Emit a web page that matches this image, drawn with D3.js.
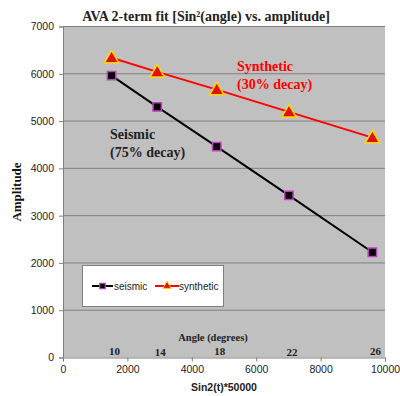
<!DOCTYPE html>
<html>
<head>
<meta charset="utf-8">
<script src="https://cdn.jsdelivr.net/npm/d3@7"></script>
<style>
body { margin: 0; background: #fff; }
svg text { font-family: Arial, "Liberation Sans", sans-serif; }
.serif { font-family: "Times New Roman", "Liberation Serif", serif; font-weight: bold; }
</style>
</head>
<body>
<div id="chart"></div>
<script>
// sin^2(angle)*50000 for each angle
let angles = [10, 14, 18, 22, 26]
let xValues = [1508, 2926, 4775, 7016, 9608]
let seismic = [5960, 5300, 4460, 3430, 2225]
let synthetic = [6340, 6040, 5665, 5195, 4650]
let xTicks = [0, 2000, 4000, 6000, 8000, 10000]
let yTicks = [0, 1000, 2000, 3000, 4000, 5000, 6000, 7000]

let width = 400, height = 396
let margin = {left: 63, right: 15, top: 26.5, bottom: 38.5}

let svg = d3.select('#chart').append('svg')
    .attr('width', width).attr('height', height)

let x = d3.scaleLinear().domain([0, 10000]).range([margin.left, width - margin.right])
let y = d3.scaleLinear().domain([0, 7000]).range([height - margin.bottom, margin.top])

// plot background
svg.append('rect')
    .attr('x', x(0)).attr('y', y(7000))
    .attr('width', x(10000) - x(0)).attr('height', y(0) - y(7000))
    .attr('fill', '#c0c0c0')

// grid lines
svg.selectAll('.grid').data(yTicks.slice(1)).enter().append('line')
    .attr('x1', x(0)).attr('x2', x(10000))
    .attr('y1', d => y(d)).attr('y2', d => y(d))
    .attr('stroke', '#808080').attr('stroke-width', 1)

// axes
let xAxis = svg.append('g')
    .attr('transform', `translate(0,${y(0)})`)
    .call(d3.axisBottom(x).tickValues(xTicks).tickFormat(d3.format('d')).tickSize(4).tickPadding(4))
let yAxis = svg.append('g')
    .attr('transform', `translate(${x(0)},0)`)
    .call(d3.axisLeft(y).tickValues(yTicks).tickFormat(d3.format('d')).tickSize(4).tickPadding(5))
;[xAxis, yAxis].forEach(a => {
    a.select('.domain').attr('stroke', '#808080')
    a.selectAll('.tick line').attr('stroke', '#808080')
    a.selectAll('.tick text').attr('font-size', 10.5).attr('fill', '#222')
        .style('font-family', 'Arial, "Liberation Sans", sans-serif')
})

// lines
let line = vals => d3.line().x((d, i) => x(xValues[i])).y(d => y(d))(vals)
svg.append('path').attr('d', line(seismic))
    .attr('fill', 'none').attr('stroke', '#000').attr('stroke-width', 2)
svg.append('path').attr('d', line(synthetic))
    .attr('fill', 'none').attr('stroke', '#ff0000').attr('stroke-width', 2)

// markers
let sq = d3.symbol().type(d3.symbolSquare).size(70)
let tri = d3.symbol().type(d3.symbolTriangle).size(90)
svg.selectAll('.sm').data(seismic).enter().append('path')
    .attr('d', sq)
    .attr('transform', (d, i) => `translate(${x(xValues[i])},${y(d)})`)
    .attr('fill', '#000').attr('stroke', '#c040c0').attr('stroke-width', 1.5)
svg.selectAll('.tm').data(synthetic).enter().append('path')
    .attr('d', tri)
    .attr('transform', (d, i) => `translate(${x(xValues[i])},${y(d) + 1})`)
    .attr('fill', '#e01010').attr('stroke', '#ffd700').attr('stroke-width', 1.5)

// angle labels
svg.selectAll('.ang').data(angles).enter().append('text')
    .attr('class', 'serif')
    .attr('x', (d, i) => x(xValues[i]) + 3)
    .attr('y', (d, i) => i % 2 ? 356 : 355)
    .attr('text-anchor', 'middle')
    .attr('font-size', 11).attr('fill', '#222')
    .text(d => d)
svg.append('text').attr('class', 'serif')
    .attr('x', 213).attr('y', 341)
    .attr('text-anchor', 'middle').attr('font-size', 10.5).attr('fill', '#222')
    .text('Angle (degrees)')

// title
svg.append('text').attr('class', 'serif')
    .attr('x', 206).attr('y', 21)
    .attr('text-anchor', 'middle').attr('font-size', 14).attr('fill', '#222')
    .html('AVA 2-term fit [Sin<tspan baseline-shift="super" font-size="8">2</tspan>(angle) vs. amplitude]')

// axis titles
svg.append('text').attr('class', 'serif')
    .attr('transform', `translate(21,${(y(0) + y(7000)) / 2}) rotate(-90)`)
    .attr('text-anchor', 'middle').attr('font-size', 13).attr('fill', '#111')
    .text('Amplitude')
svg.append('text')
    .attr('x', (x(0) + x(10000)) / 2).attr('y', 391)
    .attr('text-anchor', 'middle').attr('font-size', 10.5).attr('font-weight', 'bold').attr('fill', '#222')
    .text('Sin2(t)*50000')

// annotations
let synthNote = svg.append('text').attr('class', 'serif')
    .attr('font-size', 14).attr('fill', '#ff0000')
synthNote.append('tspan').attr('x', 237).attr('y', 71).text('Synthetic')
synthNote.append('tspan').attr('x', 237).attr('y', 89).text('(30% decay)')
let seisNote = svg.append('text').attr('class', 'serif')
    .attr('font-size', 14).attr('fill', '#222')
seisNote.append('tspan').attr('x', 110).attr('y', 139).text('Seismic')
seisNote.append('tspan').attr('x', 110).attr('y', 157).text('(75% decay)')

// legend
let legend = svg.append('g')
legend.append('rect')
    .attr('x', 82.5).attr('y', 265.5).attr('width', 141).attr('height', 41)
    .attr('fill', '#fff').attr('stroke', '#808080')
let ly = 286
legend.append('line').attr('x1', 92).attr('x2', 113).attr('y1', ly).attr('y2', ly)
    .attr('stroke', '#000').attr('stroke-width', 2)
legend.append('path').attr('d', d3.symbol().type(d3.symbolSquare).size(30))
    .attr('transform', `translate(102.5,${ly})`)
    .attr('fill', '#000').attr('stroke', '#c040c0').attr('stroke-width', 1.2)
legend.append('text').attr('x', 114).attr('y', ly + 3.5).attr('font-size', 10).attr('fill', '#222').text('seismic')
legend.append('line').attr('x1', 155).attr('x2', 179).attr('y1', ly).attr('y2', ly)
    .attr('stroke', '#ff0000').attr('stroke-width', 2)
legend.append('path').attr('d', d3.symbol().type(d3.symbolTriangle).size(30))
    .attr('transform', `translate(167,${ly})`)
    .attr('fill', '#e01010').attr('stroke', '#ffd700').attr('stroke-width', 1)
legend.append('text').attr('x', 179).attr('y', ly + 3.5).attr('font-size', 10).attr('fill', '#222').text('synthetic')
</script>
</body>
</html>
